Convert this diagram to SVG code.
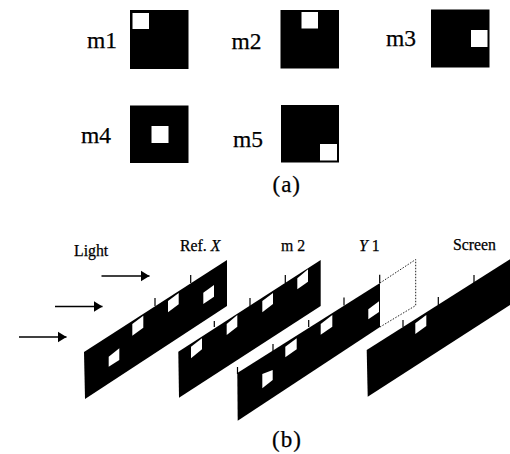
<svg xmlns="http://www.w3.org/2000/svg" width="510" height="454" viewBox="0 0 510 454">
<style>
text{font-family:"Liberation Serif","Times New Roman",serif;fill:#000;stroke:#000;stroke-width:.25}
.big{font-size:23.5px}
.cap{font-size:23px;letter-spacing:1px}
.lab{font-size:15.8px}
.k{fill:#000}
.w{fill:#fff}
.t{stroke:#000;stroke-width:1.2;fill:none}
.a{stroke:#000;stroke-width:1.3;fill:none;marker-end:url(#h)}
</style>
<defs>
<marker id="h" markerUnits="userSpaceOnUse" markerWidth="10" markerHeight="12" refX="9" refY="6" orient="auto"><path d="M0 0.5L9 6L0 11.5Z" fill="#000"/></marker>
</defs>
<rect width="510" height="454" fill="#fff"/>
<g id="mask-m1"><text class="big" x="87" y="48">m1</text><rect class="k" x="130" y="10" width="58.500" height="59"/><rect class="w" x="132.500" y="13" width="16.500" height="16"/></g>
<g id="mask-m2"><text class="big" x="231.500" y="49">m2</text><rect class="k" x="280.500" y="10" width="58.500" height="58.500"/><rect class="w" x="301.500" y="12" width="16.500" height="16.500"/></g>
<g id="mask-m3"><text class="big" x="386" y="46">m3</text><rect class="k" x="431" y="9.500" width="58.500" height="58"/><rect class="w" x="471" y="30" width="16.500" height="17"/></g>
<g id="mask-m4"><text class="big" x="81" y="143">m4</text><rect class="k" x="130" y="105.500" width="58.500" height="57.500"/><rect class="w" x="151.500" y="126" width="17" height="17"/></g>
<g id="mask-m5"><text class="big" x="233" y="147">m5</text><rect class="k" x="281" y="105" width="58" height="57.500"/><rect class="w" x="320" y="144" width="17" height="16.500"/></g>
<text id="caption-a" class="cap" x="272.500" y="192">(a)</text>
<g id="connectors">
<line class="a" x1="101.500" y1="276" x2="149.500" y2="276"/>
<line class="a" x1="55" y1="306.500" x2="102.500" y2="306.500"/>
<line class="a" x1="19" y1="337" x2="66.500" y2="337"/>
</g>
<text id="label-light" class="lab" x="74" y="255.500">Light</text>
<g id="panel-ref-x">
<text class="lab" x="180" y="251">Ref. <tspan font-style="italic">X</tspan></text>
<polygon class="k" points="84,352 227,260 227,306 85,399"/>
<path class="t" d="M155 298V306M190.700 275V283"/>
<polygon class="w" points="108.700,356.700 119.300,348.300 119.300,360 108.700,366.700"/>
<polygon class="w" points="132.300,324 143.300,315.700 143.300,327.700 132.300,335.700"/>
<polygon class="w" points="168,301 178.700,293 178.700,304.300 168,312.300"/>
<polygon class="w" points="203.300,292.700 214,285 214,296.700 203.300,304"/>
</g>
<g id="panel-m2">
<text class="lab" x="281" y="251">m 2</text>
<polygon class="k" points="178.300,351.700 320.700,260 320.700,306 179,397.700"/>
<path class="t" d="M214.300 321V327M250 298V306M285.300 275V283"/>
<polygon class="w" points="191,346.700 202,338.300 202,349.300 191,358.300"/>
<polygon class="w" points="226.700,324 237.300,315 237.300,326.700 226.700,335"/>
<polygon class="w" points="262.300,301 273,293 273,304 262.300,312.300"/>
<polygon class="w" points="297.300,278.300 308,269.300 308,281.700 297.300,289.300"/>
</g>
<g id="panel-y1">
<text class="lab" x="359" y="251"><tspan font-style="italic">Y</tspan> 1</text>
<polygon class="k" points="237.300,373 380,283 380,327 237.700,420.700"/>
<path class="t" d="M237.500 367V374M273 344V351M308.700 320V327M344 297.500V305.500M379.700 274.700V283"/>
<polygon class="w" points="262.300,374 272.700,370 272.700,380 262.300,388.300"/>
<polygon class="w" points="285.300,346.700 296.700,338.300 296.700,349.300 285.300,357.300"/>
<polygon class="w" points="320.700,324 332.300,315 332.300,326.700 320.700,334.700"/>
<polygon class="w" points="368.300,309.300 379,301.300 379,312 368.300,319.300"/>
<polyline points="380,283 415.700,259.500 415.700,305.500 380,327" fill="none" stroke="#222" stroke-width="1" stroke-dasharray="1.500 1.500"/>
</g>
<g id="panel-screen">
<text class="lab" x="453" y="250">Screen</text>
<polygon class="k" points="366.700,350 510,259.300 510,305 367.700,396.700"/>
<path class="t" d="M403 320V327M438.300 297V305M474 275V283"/>
<polygon class="w" points="415.300,323.300 426.300,315 426.300,326 415.300,334"/>
</g>
<text id="caption-b" class="cap" x="272" y="447">(b)</text>
</svg>
